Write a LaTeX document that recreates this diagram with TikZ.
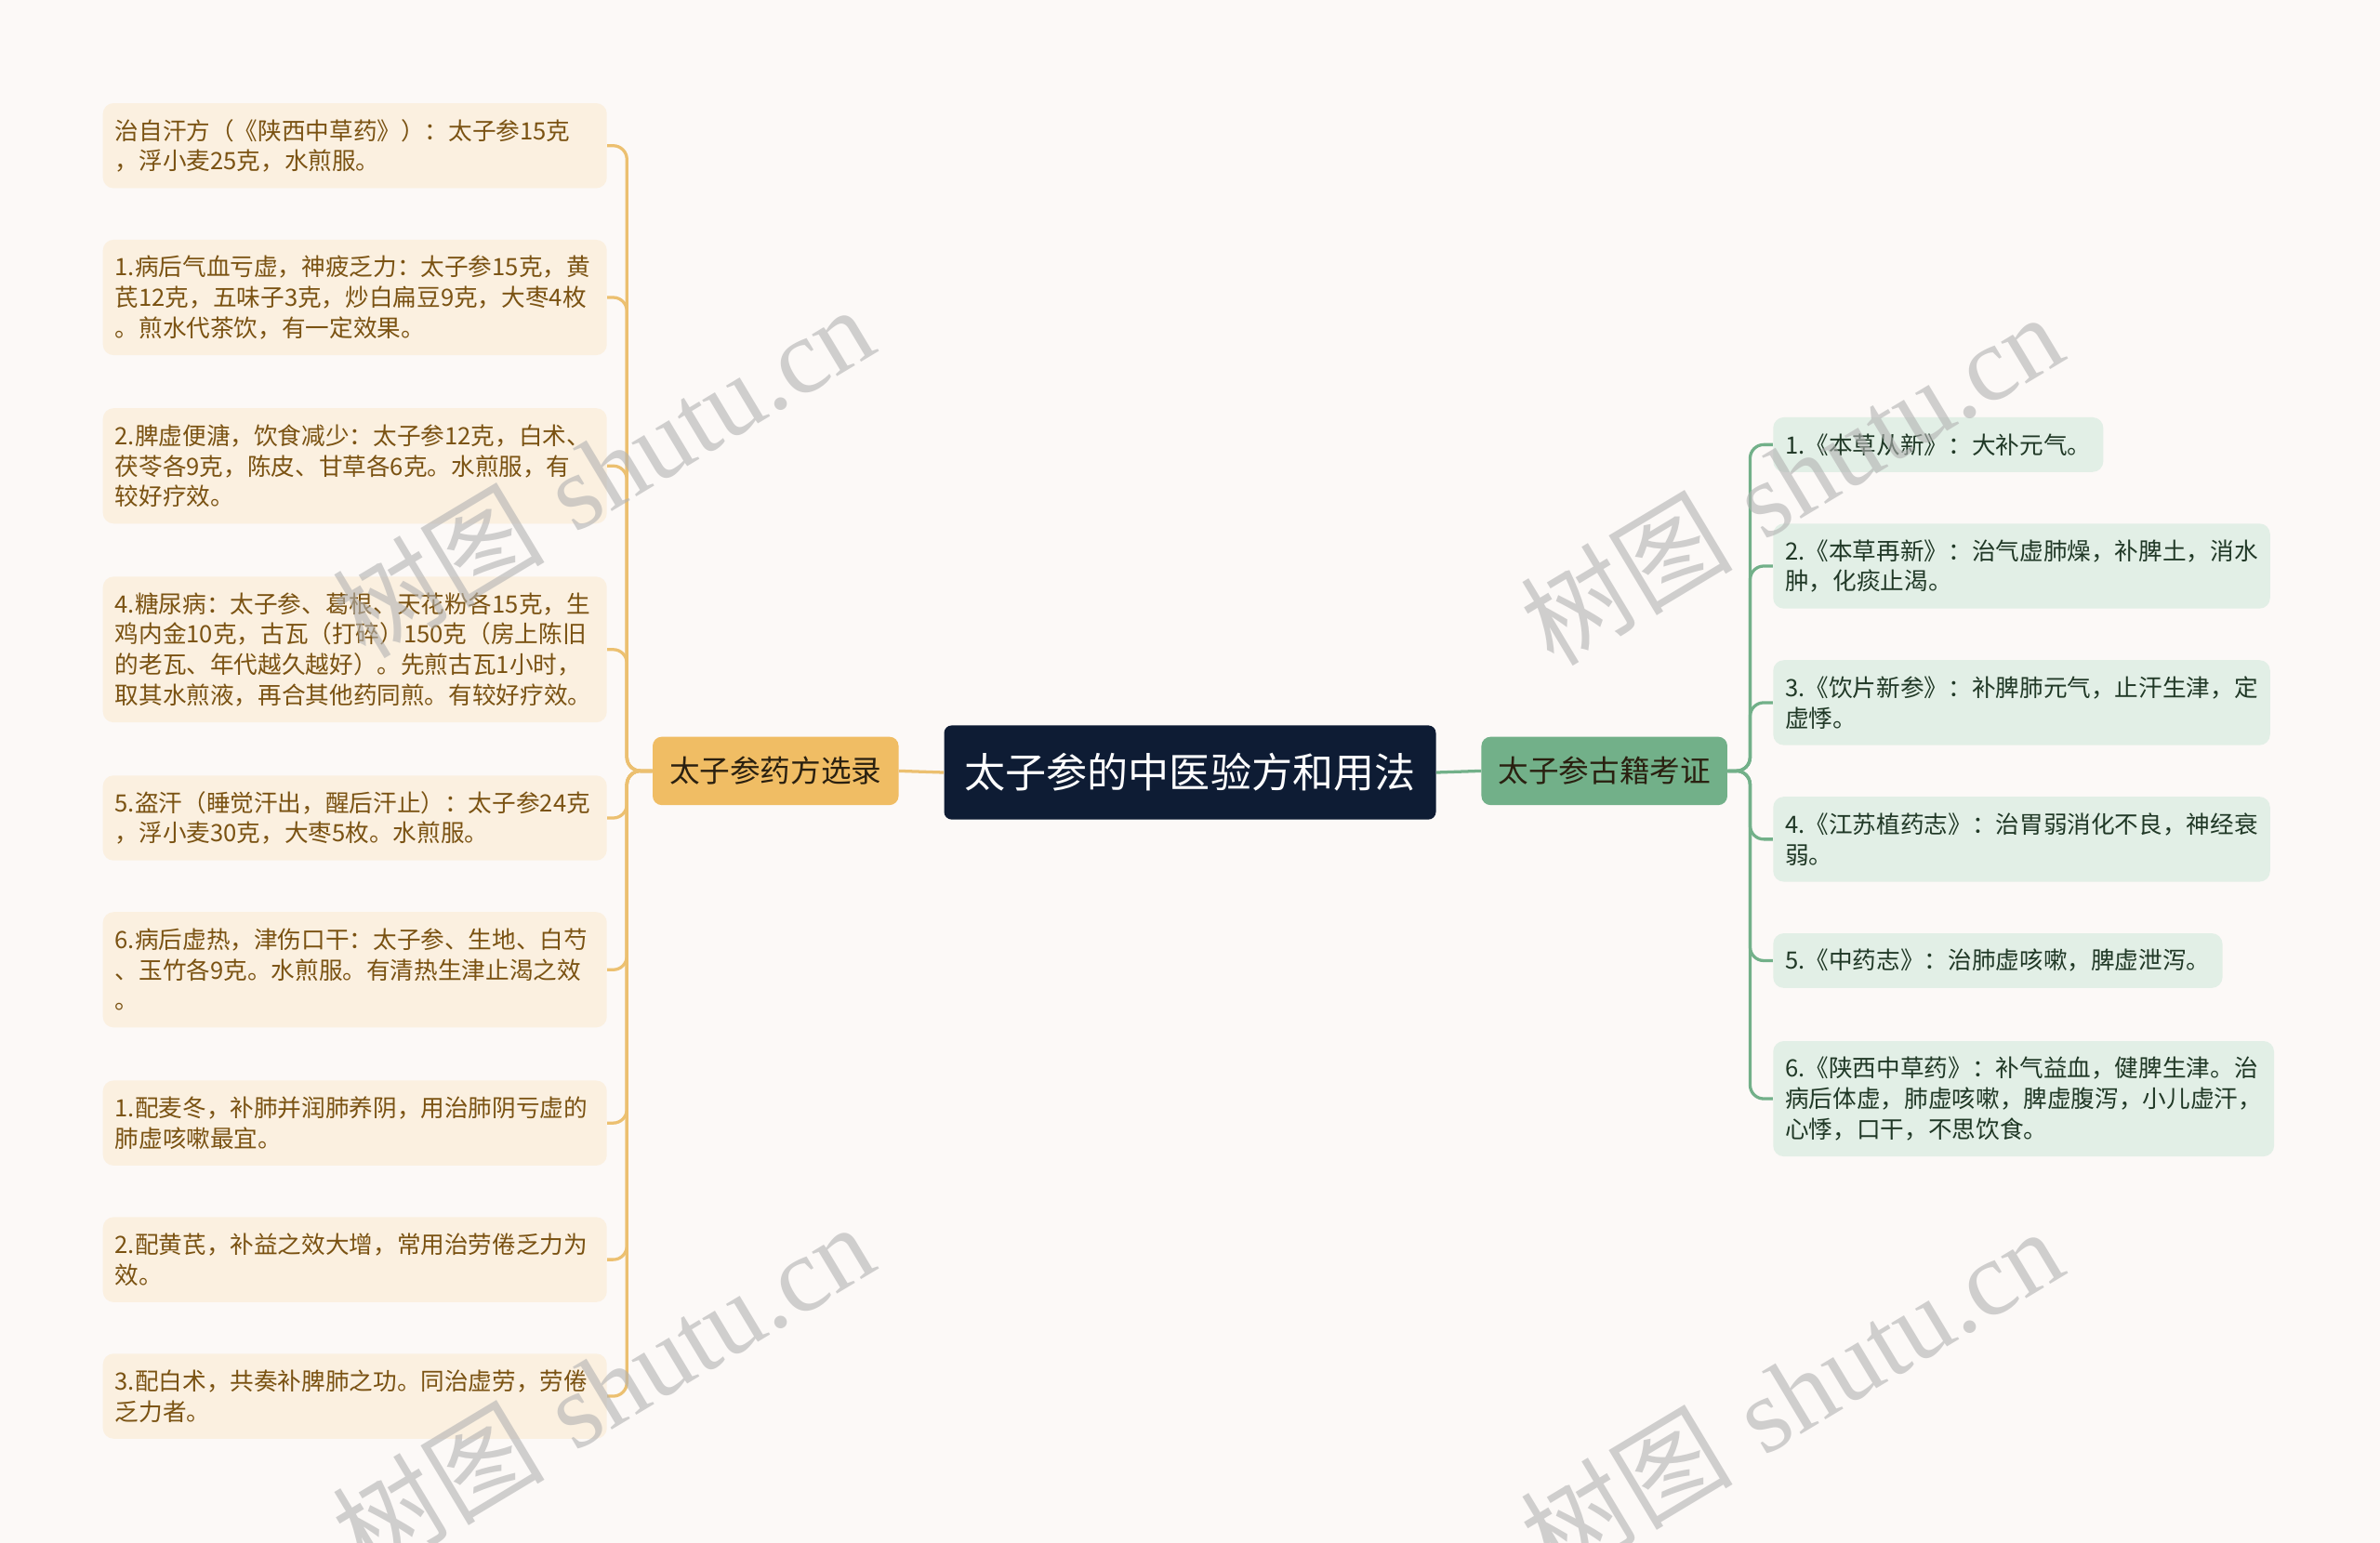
\documentclass[tikz,border=0pt]{standalone}
\usepackage{fontspec}
\newfontfamily\cjk{Noto Sans CJK SC}
\newfontfamily\wmserif{Liberation Serif}

\definecolor{bgcol}{RGB}{252,249,247}
\definecolor{rootcol}{RGB}{14,28,52}
\definecolor{goldcol}{RGB}{240,189,100}
\definecolor{goldline}{RGB}{236,192,112}
\definecolor{goldleaf}{RGB}{251,240,224}
\definecolor{goldtext}{RGB}{122,82,18}
\definecolor{greencol}{RGB}{114,176,137}
\definecolor{greenleaf}{RGB}{226,239,230}
\definecolor{greentext}{RGB}{32,56,38}
\definecolor{maintext}{RGB}{42,32,16}

\begin{document}
\begin{tikzpicture}[x=1pt, y=1pt,
    root/.style={fill=rootcol, rounded corners=5pt, minimum width=324pt, minimum height=62pt,
      text=white, font=\cjk\fontsize{27}{30}\selectfont},
    lmainbox/.style={fill=goldcol, rounded corners=6pt, minimum width=162pt, minimum height=45pt,
      text=maintext, font=\cjk\fontsize{20}{22}\selectfont},
    rmainbox/.style={lmainbox, fill=greencol},
    leaf/.style={rounded corners=7pt, inner xsep=8pt, align=left,
      font=\cjk\fontsize{15.7}{20}\selectfont},
    nl/.style={minimum height={#1*20pt+16pt}},
    lleaf/.style={leaf, anchor=east, fill=goldleaf, text=goldtext, text width=316pt},
    rleaf/.style={leaf, anchor=west, fill=greenleaf, text=greentext},
    lline/.style={draw=goldline, line width=2pt, rounded corners=9pt},
    rline/.style={draw=greencol, line width=2pt, rounded corners=9pt},
    wm/.style={rotate=31, text=black!30, text opacity=0.6, font=\fontsize{70}{74}\selectfont}]

    % Canvas
    \fill[bgcol] (0,0) rectangle (1568,-1016.75);
    \useasboundingbox (0,0) rectangle (1568,-1016.75);

    % Centre and branches
    \node[root] (root) at (784,-509) {太子参的中医验方和用法};
    \node[lmainbox] (lmain) at (511,-508) {太子参药方选录};
    \node[rmainbox] (rmain) at (1057,-508) {太子参古籍考证};

    \coordinate (lbus) at (413,0);
    \coordinate (rbus) at (1153,0);

    % Left leaves
    \node[lleaf, nl=2] (l1) at (400,-96) {治自汗方（《陕西中草药》）：太子参15克\\，浮小麦25克，水煎服。};
    \node[lleaf, nl=3] (l2) at (400,-196) {1.病后气血亏虚，神疲乏力：太子参15克，黄\\芪12克，五味子3克，炒白扁豆9克，大枣4枚\\。煎水代茶饮，有一定效果。};
    \node[lleaf, nl=3] (l3) at (400,-307) {2.脾虚便溏，饮食减少：太子参12克，白术、\\茯苓各9克，陈皮、甘草各6克。水煎服，有\\较好疗效。};
    \node[lleaf, nl=4] (l4) at (400,-428) {4.糖尿病：太子参、葛根、天花粉各15克，生\\鸡内金10克，古瓦（打碎）150克（房上陈旧\\的老瓦、年代越久越好）。先煎古瓦1小时，\\取其水煎液，再合其他药同煎。有较好疗效。};
    \node[lleaf, nl=2] (l5) at (400,-539) {5.盗汗（睡觉汗出，醒后汗止）：太子参24克\\，浮小麦30克，大枣5枚。水煎服。};
    \node[lleaf, nl=3] (l6) at (400,-639) {6.病后虚热，津伤口干：太子参、生地、白芍\\、玉竹各9克。水煎服。有清热生津止渴之效\\。};
    \node[lleaf, nl=2] (l7) at (400,-740) {1.配麦冬，补肺并润肺养阴，用治肺阴亏虚的\\肺虚咳嗽最宜。};
    \node[lleaf, nl=2] (l8) at (400,-830) {2.配黄芪，补益之效大增，常用治劳倦乏力为\\效。};
    \node[lleaf, nl=2] (l9) at (400,-920) {3.配白术，共奏补脾肺之功。同治虚劳，劳倦\\乏力者。};

    % Right leaves
    \node[rleaf, nl=1] (r1) at (1168,-293) {1.《本草从新》：大补元气。};
    \node[rleaf, nl=2] (r2) at (1168,-373) {2.《本草再新》：治气虚肺燥，补脾土，消水\\肿，化痰止渴。};
    \node[rleaf, nl=2] (r3) at (1168,-463) {3.《饮片新参》：补脾肺元气，止汗生津，定\\虚悸。};
    \node[rleaf, nl=2] (r4) at (1168,-553) {4.《江苏植药志》：治胃弱消化不良，神经衰\\弱。};
    \node[rleaf, nl=1] (r5) at (1168,-633) {5.《中药志》：治肺虚咳嗽，脾虚泄泻。};
    \node[rleaf, nl=3] (r6) at (1168,-724) {6.《陕西中草药》：补气益血，健脾生津。治\\病后体虚，肺虚咳嗽，脾虚腹泻，小儿虚汗，\\心悸，口干，不思饮食。};

    % Trunk lines
    \draw[lline] (root.west) -- (lmain.east);
    \draw[rline] (root.east) -- (rmain.west);

    % Left connectors
    \draw[lline] (lmain.west) -- (lmain.west -| lbus) |- (l1.east);
    \draw[lline] (lmain.west) -- (lmain.west -| lbus) |- (l2.east);
    \draw[lline] (lmain.west) -- (lmain.west -| lbus) |- (l3.east);
    \draw[lline] (lmain.west) -- (lmain.west -| lbus) |- (l4.east);
    \draw[lline] (lmain.west) -- (lmain.west -| lbus) |- (l5.east);
    \draw[lline] (lmain.west) -- (lmain.west -| lbus) |- (l6.east);
    \draw[lline] (lmain.west) -- (lmain.west -| lbus) |- (l7.east);
    \draw[lline] (lmain.west) -- (lmain.west -| lbus) |- (l8.east);
    \draw[lline] (lmain.west) -- (lmain.west -| lbus) |- (l9.east);

    % Right connectors
    \draw[rline] (rmain.east) -- (rmain.east -| rbus) |- (r1.west);
    \draw[rline] (rmain.east) -- (rmain.east -| rbus) |- (r2.west);
    \draw[rline] (rmain.east) -- (rmain.east -| rbus) |- (r3.west);
    \draw[rline] (rmain.east) -- (rmain.east -| rbus) |- (r4.west);
    \draw[rline] (rmain.east) -- (rmain.east -| rbus) |- (r5.west);
    \draw[rline] (rmain.east) -- (rmain.east -| rbus) |- (r6.west);

    % Watermarks
    \node[wm] (wm1) at (397,-310) {{\cjk 树图} {\wmserif shutu.cn}};
    \node[wm] (wm2) at (1180,-315) {{\cjk 树图} {\wmserif shutu.cn}};
    \node[wm] (wm3) at (397,-915) {{\cjk 树图} {\wmserif shutu.cn}};
    \node[wm] (wm4) at (1180,-918) {{\cjk 树图} {\wmserif shutu.cn}};
\end{tikzpicture}
\end{document}
